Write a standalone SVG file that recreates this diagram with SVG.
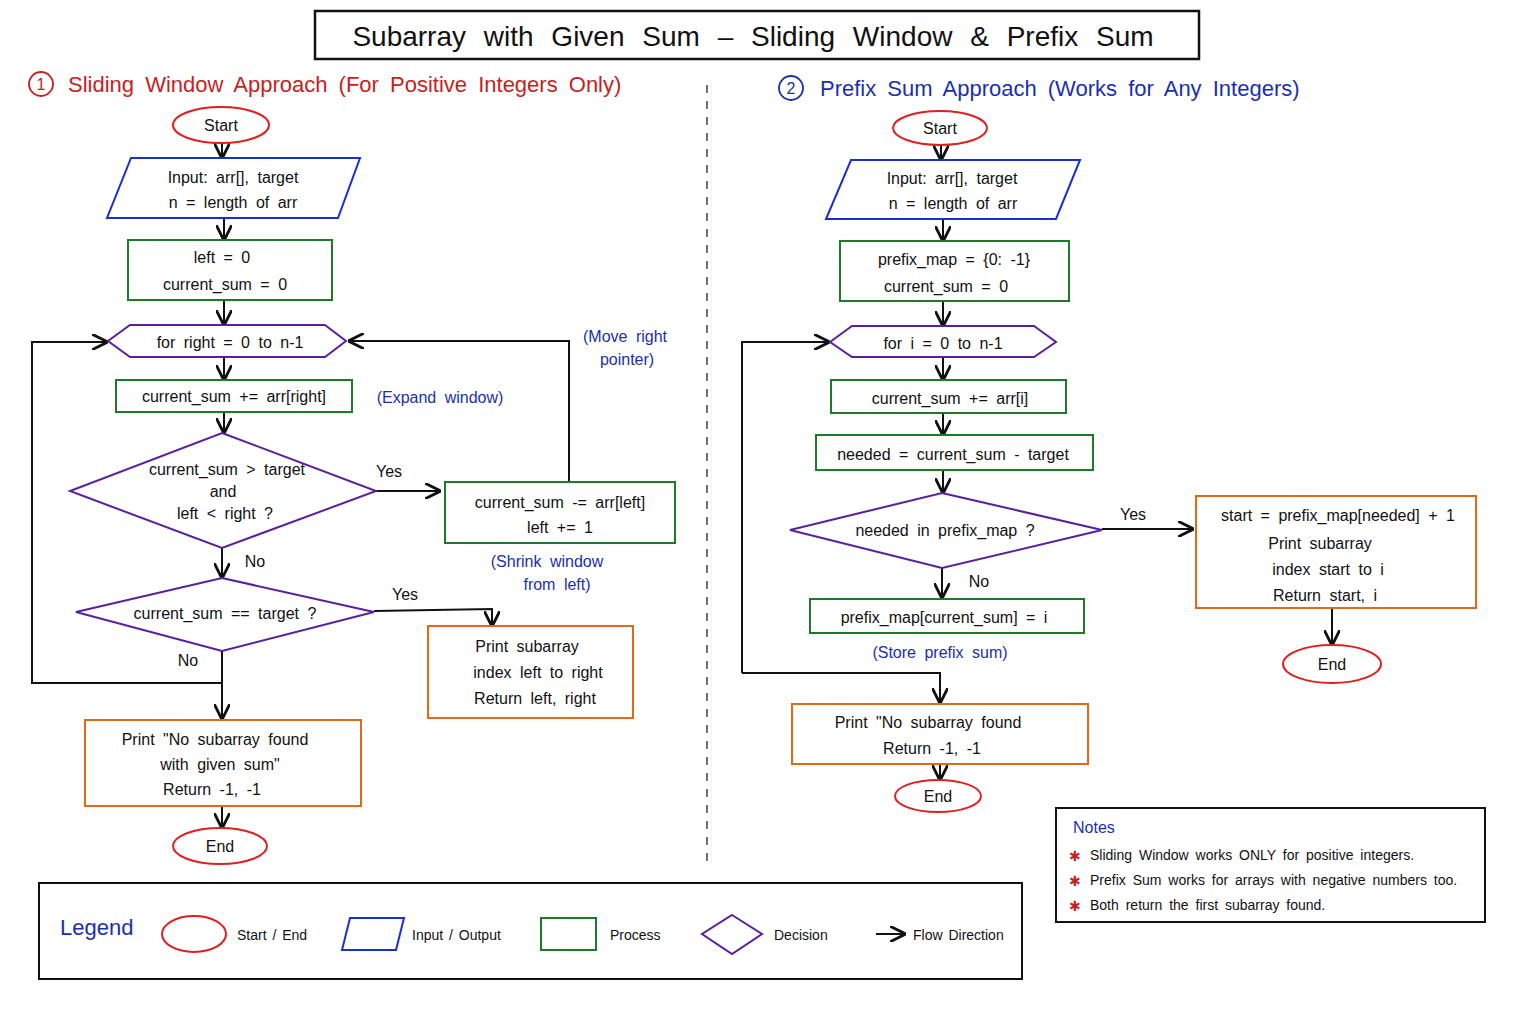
<svg xmlns="http://www.w3.org/2000/svg" width="1536" height="1024" viewBox="0 0 1536 1024">
<style>
text{font-family:"Liberation Sans","DejaVu Sans",sans-serif;font-size:16px;fill:#111;text-anchor:middle;word-spacing:4px}
.t{font-size:28px;word-spacing:10px}
.h{font-size:22px;text-anchor:start;word-spacing:5px}
.b{fill:#1a2fb0}
.r{fill:#c81e1e}
.n{font-size:14px;text-anchor:start;word-spacing:3px}
.lg{font-size:14px;text-anchor:start;word-spacing:2px}
.se{fill:none;stroke:#e02020;stroke-width:2}
.io{fill:none;stroke:#1a2fd0;stroke-width:2}
.pr{fill:none;stroke:#1d7a2a;stroke-width:2}
.de{fill:none;stroke:#5a1fa0;stroke-width:2}
.ou{fill:none;stroke:#e06a1a;stroke-width:2}
.c path,.c line{fill:none;stroke:#111;stroke-width:2;marker-end:url(#a)}
</style>
<defs><marker id="a" viewBox="0 0 10 10" refX="9" refY="5" markerWidth="8" markerHeight="8" orient="auto-start-reverse"><path d="M0,0 L10,5 L0,10" fill="none" stroke="#111" stroke-width="1.8"/></marker></defs>
<rect width="1536" height="1024" fill="#fff"/>
<g id="title"><rect x="315" y="11" width="884" height="48" fill="none" stroke="#111" stroke-width="2.5"/><text class="t" x="753" y="46">Subarray with Given Sum – Sliding Window &amp; Prefix Sum</text></g>
<g id="h1"><circle cx="41" cy="84" r="12" fill="none" stroke="#c81e1e" stroke-width="1.8"/><text x="41" y="90" class="r">1</text><text class="h r" x="68" y="92">Sliding Window Approach (For Positive Integers Only)</text></g>
<g id="h2"><circle cx="791" cy="88" r="12" fill="none" stroke="#1a2fb0" stroke-width="1.8"/><text x="791" y="94" class="b">2</text><text class="h b" x="820" y="96">Prefix Sum Approach (Works for Any Integers)</text></g>
<line x1="707" y1="85" x2="707" y2="865" stroke="#111" stroke-dasharray="8 8" stroke-width="1.2"/>
<g class="c" id="connectors">
<line x1="222" y1="143" x2="222" y2="157"/>
<line x1="224" y1="218" x2="224" y2="239"/>
<line x1="224" y1="300" x2="224" y2="324"/>
<line x1="224" y1="357" x2="224" y2="379"/>
<line x1="224" y1="412" x2="224" y2="432"/>
<line x1="376" y1="491" x2="439" y2="491"/>
<path d="M569,482 L569,341 L350,341"/>
<line x1="222" y1="548" x2="222" y2="577"/>
<path d="M374,611 L492,609 L492,625"/>
<line x1="222" y1="651" x2="222" y2="718"/>
<path d="M222,683 L32,683 L32,342 L106,342"/>
<line x1="222" y1="806" x2="222" y2="827"/>
<line x1="941" y1="145" x2="941" y2="159"/>
<line x1="943" y1="219" x2="943" y2="240"/>
<line x1="943" y1="301" x2="943" y2="325"/>
<line x1="943" y1="357" x2="943" y2="379"/>
<line x1="943" y1="413" x2="943" y2="434"/>
<line x1="943" y1="470" x2="943" y2="492"/>
<line x1="1102" y1="529" x2="1192" y2="529"/>
<line x1="1332" y1="608" x2="1332" y2="644"/>
<line x1="942" y1="568" x2="942" y2="597"/>
<path d="M742,673 L742,342 L828,342"/>
<path d="M742,673 L940,673 L940,702"/>
<line x1="940" y1="764" x2="940" y2="779"/>
</g>
<g id="s1"><ellipse class="se" cx="221" cy="125" rx="48" ry="18"/><text x="221" y="131">Start</text></g>
<g id="in1"><polygon class="io" points="131,158 360,158 338,218 107,218"/><text x="233" y="183">Input: arr[], target</text><text x="233" y="208">n = length of arr</text></g>
<g id="p1"><rect class="pr" x="128" y="240" width="204" height="60"/><text x="222" y="263">left = 0</text><text x="225" y="290">current_sum = 0</text></g>
<g id="loop1"><polygon class="de" points="108,341 130,325 325,325 346,341 325,357 130,357"/><text x="230" y="348">for right = 0 to n-1</text></g>
<g id="p2"><rect class="pr" x="116" y="380" width="236" height="32"/><text x="234" y="402">current_sum += arr[right]</text><text class="b" x="440" y="403">(Expand window)</text></g>
<g id="d1"><polygon class="de" points="222,433 376,491 222,548 70,491"/><text x="227" y="475">current_sum &gt; target</text><text x="223" y="497">and</text><text x="225" y="519">left &lt; right ?</text><text x="389" y="477">Yes</text><text x="255" y="567">No</text></g>
<g id="p3"><rect class="pr" x="445" y="482" width="230" height="61"/><text x="560" y="508">current_sum -= arr[left]</text><text x="560" y="533">left += 1</text><text class="b" x="547" y="567">(Shrink window</text><text class="b" x="557" y="590">from left)</text><text class="b" x="625" y="342">(Move right</text><text class="b" x="627" y="365">pointer)</text></g>
<g id="d2"><polygon class="de" points="222,578 374,612 222,651 76,612"/><text x="225" y="619">current_sum == target ?</text><text x="405" y="600">Yes</text><text x="188" y="666">No</text></g>
<g id="o1"><rect class="ou" x="428" y="626" width="205" height="92"/><text x="527" y="652">Print subarray</text><text x="538" y="678">index left to right</text><text x="535" y="704">Return left, right</text></g>
<g id="o2"><rect class="ou" x="85" y="720" width="276" height="86"/><text x="215" y="745">Print "No subarray found</text><text x="220" y="770">with given sum"</text><text x="212" y="795">Return -1, -1</text></g>
<g id="e1"><ellipse class="se" cx="220" cy="846" rx="47" ry="18"/><text x="220" y="852">End</text></g>
<g id="s2"><ellipse class="se" cx="940" cy="128" rx="47" ry="17"/><text x="940" y="134">Start</text></g>
<g id="in2"><polygon class="io" points="851,160 1080,160 1056,219 826,219"/><text x="952" y="184">Input: arr[], target</text><text x="953" y="209">n = length of arr</text></g>
<g id="q1"><rect class="pr" x="840" y="241" width="229" height="60"/><text x="954" y="265">prefix_map = {0: -1}</text><text x="946" y="292">current_sum = 0</text></g>
<g id="loop2"><polygon class="de" points="830,342 852,326 1034,326 1056,342 1034,357 852,357"/><text x="943" y="349">for i = 0 to n-1</text></g>
<g id="q2"><rect class="pr" x="831" y="380" width="235" height="33"/><text x="950" y="404">current_sum += arr[i]</text></g>
<g id="q3"><rect class="pr" x="816" y="435" width="277" height="35"/><text x="953" y="460">needed = current_sum - target</text></g>
<g id="d3"><polygon class="de" points="942,493 1102,530 942,568 790,530"/><text x="945" y="536">needed in prefix_map ?</text><text x="1133" y="520">Yes</text><text x="979" y="587">No</text></g>
<g id="o3"><rect class="ou" x="1196" y="496" width="280" height="112"/><text x="1338" y="521">start = prefix_map[needed] + 1</text><text x="1320" y="549">Print subarray</text><text x="1328" y="575">index start to i</text><text x="1325" y="601">Return start, i</text></g>
<g id="e2"><ellipse class="se" cx="1332" cy="664" rx="49" ry="19"/><text x="1332" y="670">End</text></g>
<g id="q4"><rect class="pr" x="810" y="599" width="274" height="34"/><text x="944" y="623">prefix_map[current_sum] = i</text><text class="b" x="940" y="658">(Store prefix sum)</text></g>
<g id="o4"><rect class="ou" x="792" y="704" width="296" height="60"/><text x="928" y="728">Print "No subarray found</text><text x="932" y="754">Return -1, -1</text></g>
<g id="e3"><ellipse class="se" cx="938" cy="796" rx="43" ry="16"/><text x="938" y="802">End</text></g>
<g id="notes"><rect x="1056" y="808" width="429" height="114" fill="none" stroke="#111" stroke-width="2"/><text class="n b" x="1073" y="833" style="font-size:16px">Notes</text>
<text class="n r" x="1069" y="861">✱</text><text class="n" x="1090" y="860">Sliding Window works ONLY for positive integers.</text>
<text class="n r" x="1069" y="886">✱</text><text class="n" x="1090" y="885">Prefix Sum works for arrays with negative numbers too.</text>
<text class="n r" x="1069" y="911">✱</text><text class="n" x="1090" y="910">Both return the first subarray found.</text></g>
<g id="legend"><rect x="39" y="883" width="983" height="96" fill="none" stroke="#111" stroke-width="2"/><text class="h b" x="60" y="935">Legend</text>
<ellipse class="se" cx="194" cy="934" rx="32" ry="18"/><text class="lg" x="237" y="940">Start / End</text>
<polygon class="io" points="350,918 404,918 396,950 342,950"/><text class="lg" x="412" y="940">Input / Output</text>
<rect class="pr" x="541" y="918" width="55" height="32"/><text class="lg" x="610" y="940">Process</text>
<polygon class="de" points="732,915 762,934 732,954 702,934"/><text class="lg" x="774" y="940">Decision</text>
<g class="c"><line x1="876" y1="934" x2="904" y2="934"/></g><text class="lg" x="913" y="940">Flow Direction</text></g>
</svg>
